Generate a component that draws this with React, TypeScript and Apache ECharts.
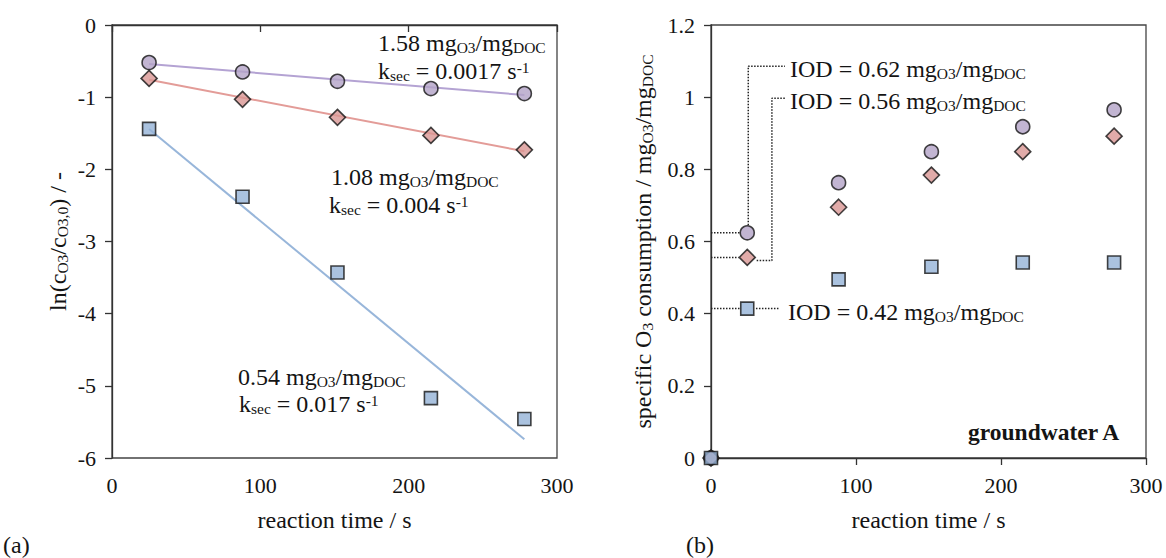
import { useEffect, useRef } from 'react';
import * as echarts from 'echarts';

// ---- panel (a): ln(c/c0) vs reaction time ----
const timeA = [25, 88, 152, 215, 278];
const lnHigh = [-0.52, -0.65, -0.78, -0.88, -0.95]; // 1.58 mgO3/mgDOC (circles)
const lnMid = [-0.74, -1.03, -1.28, -1.53, -1.73]; // 1.08 mgO3/mgDOC (diamonds)
const lnLow = [-1.44, -2.38, -3.43, -5.17, -5.46]; // 0.54 mgO3/mgDOC (squares)
const fitHigh = [[25, -0.54], [278, -0.97]];
const fitMid = [[25, -0.76], [278, -1.75]];
const fitLow = [[25, -1.44], [278, -5.74]];

// ---- panel (b): specific O3 consumption ----
const timeB = [0, 25, 88, 152, 215, 278];
const consHigh = [0, 0.624, 0.763, 0.849, 0.918, 0.965];
const consMid = [0, 0.556, 0.695, 0.784, 0.849, 0.892];
const consLow = [0, 0.414, 0.495, 0.53, 0.542, 0.542];

// IOD connector polylines (data coordinates)
const iodConnectors = [
  [[0, 0.624], [20, 0.624]],
  [[25.7, 0.645], [25.7, 1.086], [51, 1.086]],
  [[0, 0.556], [19, 0.556]],
  [[31.5, 0.547], [42, 0.547], [42, 0.997], [51, 0.997]],
  [[0, 0.414], [20, 0.414]],
  [[31, 0.414], [47, 0.414]],
];

const xTickMin = 0;
const xTickMax = 300;
const xTickStep = 100;

const FONT = "'Liberation Serif', 'Times New Roman', serif";
const INK = '#141414';
const PURPLE = '#b3a2c7';
const RED = '#d99694';
const BLUE = '#95b3d7';
const PURPLE_LINE = '#b4a3d3';
const RED_LINE = '#e39c98';
const BLUE_LINE = '#98b6da';

const NB = '\u00a0';
const sp = (s: string) => s.replace(/ /g, NB);

const rich = {
  m: { fontSize: 24, fontFamily: FONT, color: INK, lineHeight: 24 },
  s: { fontSize: 15.5, fontFamily: FONT, color: INK, lineHeight: 10, verticalAlign: 'bottom' },
  p: { fontSize: 15.5, fontFamily: FONT, color: INK, lineHeight: 14, verticalAlign: 'top' },
};

const unit = (v: string) => `{m|${sp(v + ' mg')}}{s|O3}{m|/mg}{s|DOC}`;
const kLine = (k: string) => `{m|k}{s|sec}{m|${sp(' = ' + k + ' s')}}{p|-1}`;
const iod = (v: string) => `{m|${sp('IOD = ' + v + ' mg')}}{s|O3}{m|/mg}{s|DOC}`;

function txt(x: number, y: number, text: string) {
  return {
    type: 'text',
    x,
    y,
    z: 100,
    style: {
      text,
      rich,
      fontFamily: FONT,
      fontSize: 24,
      fill: INK,
      align: 'left',
      verticalAlign: 'middle',
      textAlign: 'left',
      textVerticalAlign: 'middle',
    },
  };
}

const pair = (xs: number[], ys: number[]) => xs.map((x, i) => [x, ys[i]]);

function markerStyle(color: string) {
  return { color, borderColor: INK, borderWidth: 1.6 };
}

export default function App() {
  const ref = useRef<HTMLDivElement>(null);
  useEffect(() => {
    document.body.style.margin = '0';
    if (!ref.current) return;
    const chart = echarts.init(ref.current, undefined, { renderer: 'svg' });

    const axisCommon = {
      axisLine: { show: true, lineStyle: { color: '#333', width: 1.3 } },
      axisTick: { show: true, inside: false, length: 7, lineStyle: { color: '#333', width: 1.3 } },
      splitLine: { show: false },
      axisLabel: { fontFamily: FONT, fontSize: 22, color: INK },
      nameTextStyle: { fontFamily: FONT, fontSize: 24, color: INK, rich },
    };

    const option = {
      animation: false,
      backgroundColor: '#ffffff',
      grid: [
        { left: 112, top: 25, width: 445, height: 433, show: true, borderColor: '#444', borderWidth: 1.3, backgroundColor: 'transparent' },
        { left: 711, top: 25, width: 435, height: 433, show: true, borderColor: '#444', borderWidth: 1.3, backgroundColor: 'transparent' },
      ],
      xAxis: [0, 1].map((g) => ({
        ...axisCommon,
        type: 'value',
        gridIndex: g,
        min: xTickMin,
        max: xTickMax,
        interval: xTickStep,
        name: 'reaction time / s',
        nameLocation: 'middle',
        nameGap: 50,
        axisLabel: { ...axisCommon.axisLabel, margin: 16 },
      })),
      yAxis: [
        {
          ...axisCommon,
          type: 'value',
          gridIndex: 0,
          min: -6,
          max: 0,
          interval: 1,
          name: `{m|ln(c}{s|O3}{m|/c}{s|O3,0}{m|${sp(') / -')}}`,
          nameLocation: 'middle',
          nameRotate: 90,
          nameGap: 42,
          axisLabel: { ...axisCommon.axisLabel, margin: 16 },
        },
        {
          ...axisCommon,
          type: 'value',
          gridIndex: 1,
          min: 0,
          max: 1.2,
          interval: 0.2,
          name: `{m|${sp('specific O')}}{s|3}{m|${sp(' consumption / mg')}}{s|O3}{m|/mg}{s|DOC}`,
          nameLocation: 'middle',
          nameRotate: 90,
          nameGap: 56,
          axisLabel: {
            ...axisCommon.axisLabel,
            margin: 16,
            formatter: (v: number) => String(+v.toFixed(1)),
          },
        },
      ],
      series: [
        // panel (a) fits
        { type: 'line', xAxisIndex: 0, yAxisIndex: 0, data: fitHigh, symbol: 'none', lineStyle: { color: PURPLE_LINE, width: 2 }, z: 2 },
        { type: 'line', xAxisIndex: 0, yAxisIndex: 0, data: fitMid, symbol: 'none', lineStyle: { color: RED_LINE, width: 2 }, z: 2 },
        { type: 'line', xAxisIndex: 0, yAxisIndex: 0, data: fitLow, symbol: 'none', lineStyle: { color: BLUE_LINE, width: 2 }, z: 2 },
        // panel (a) points
        { type: 'scatter', xAxisIndex: 0, yAxisIndex: 0, data: pair(timeA, lnHigh), symbol: 'circle', symbolSize: 14, itemStyle: markerStyle(PURPLE), z: 3 },
        { type: 'scatter', xAxisIndex: 0, yAxisIndex: 0, data: pair(timeA, lnMid), symbol: 'diamond', symbolSize: 16, itemStyle: markerStyle(RED), z: 3 },
        { type: 'scatter', xAxisIndex: 0, yAxisIndex: 0, data: pair(timeA, lnLow), symbol: 'rect', symbolSize: 13, itemStyle: markerStyle(BLUE), z: 3 },
        // panel (b) connectors
        ...iodConnectors.map((d) => ({
          type: 'line',
          xAxisIndex: 1,
          yAxisIndex: 1,
          data: d,
          symbol: 'none',
          lineStyle: { color: '#222', width: 1.5, type: [1.5, 1.5] },
          z: 2,
        })),
        // panel (b) points
        { type: 'scatter', xAxisIndex: 1, yAxisIndex: 1, data: pair(timeB, consHigh), symbol: 'circle', symbolSize: 14, itemStyle: markerStyle(PURPLE), z: 3 },
        { type: 'scatter', xAxisIndex: 1, yAxisIndex: 1, data: pair(timeB, consMid), symbol: 'diamond', symbolSize: 16, itemStyle: markerStyle(RED), z: 3 },
        { type: 'scatter', xAxisIndex: 1, yAxisIndex: 1, data: pair(timeB, consLow), symbol: 'rect', symbolSize: 13, itemStyle: markerStyle(BLUE), z: 4 },
      ],
      graphic: [
        txt(378, 43, unit('1.58')),
        txt(378, 71, kLine('0.0017')),
        txt(331, 177, unit('1.08')),
        txt(329, 205, kLine('0.004')),
        txt(238, 377, unit('0.54')),
        txt(239, 404, kLine('0.017')),
        txt(790, 69, iod('0.62')),
        txt(790, 101, iod('0.56')),
        txt(788, 312, iod('0.42')),
        {
          type: 'text',
          right: 1166 - 1121,
          top: 420,
          z: 100,
          style: { text: 'groundwater A', fontFamily: FONT, fontSize: 23.5, fontWeight: 'bold', fill: INK },
        },
        { type: 'text', x: 3, y: 545, style: { text: '(a)', fontFamily: FONT, fontSize: 24, fill: INK, verticalAlign: 'middle', textVerticalAlign: 'middle' } },
        { type: 'text', x: 686, y: 545, style: { text: '(b)', fontFamily: FONT, fontSize: 24, fill: INK, verticalAlign: 'middle', textVerticalAlign: 'middle' } },
      ],
    };

    chart.setOption(option as any);
    return () => chart.dispose();
  }, []);
  return <div ref={ref} style={{ width: 1166, height: 558 }} />;
}
